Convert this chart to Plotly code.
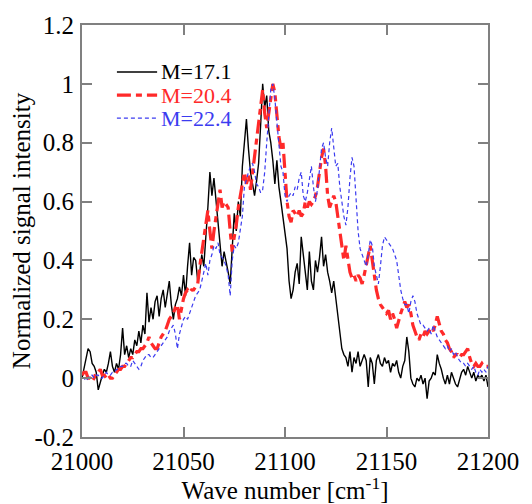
import plotly.graph_objects as go

wavenumber = list(range(21000, 21201))

m171 = [
    0.00, 0.03, 0.06, 0.10, 0.09, 0.05, 0.04, 0.02, -0.04, -0.01,
    0.01, 0.03, 0.02, 0.05, 0.09, 0.04, 0.02, 0.05, 0.03, 0.08,
    0.17, 0.08, 0.11, 0.07, 0.10, 0.08, 0.13, 0.11, 0.16, 0.12,
    0.18, 0.15, 0.29, 0.19, 0.24, 0.20, 0.26, 0.28, 0.21, 0.27,
    0.30, 0.24, 0.28, 0.33, 0.25, 0.20, 0.25, 0.27, 0.31, 0.28,
    0.35, 0.28, 0.38, 0.46, 0.35, 0.41, 0.40, 0.33, 0.36, 0.42,
    0.38, 0.47, 0.58, 0.70, 0.62, 0.68, 0.60, 0.52, 0.44, 0.38,
    0.43, 0.40, 0.36, 0.32, 0.45, 0.56, 0.50, 0.60, 0.55, 0.72,
    0.80, 0.88, 0.78, 0.70, 0.66, 0.62, 0.67, 0.73, 0.86, 1.00,
    0.92, 0.96, 0.84, 0.80, 0.74, 0.66, 0.74, 0.65, 0.60, 0.55,
    0.50, 0.44, 0.33, 0.27, 0.30, 0.36, 0.39, 0.32, 0.48, 0.42,
    0.35, 0.30, 0.43, 0.33, 0.30, 0.40, 0.36, 0.41, 0.48, 0.38,
    0.42, 0.36, 0.33, 0.29, 0.33, 0.27, 0.22, 0.15, 0.10, 0.08,
    0.07, 0.04, 0.09, 0.02, 0.07, 0.05, 0.09, 0.04, 0.06, 0.08,
    0.06, -0.03, 0.07, 0.05, -0.02, 0.06, 0.08, 0.05, 0.04, 0.07,
    0.05, 0.06, 0.02, 0.05, 0.04, 0.06, 0.02, 0.00, 0.04, 0.06,
    0.14, 0.09, 0.00, -0.02, -0.03, 0.00, -0.01, 0.01, -0.02, 0.00,
    -0.07, -0.01, 0.00, 0.02, 0.01, 0.08, 0.05, 0.03, 0.00, -0.02,
    0.01, -0.02, 0.02, 0.00, -0.02, -0.03, 0.00, 0.02, 0.03, 0.01,
    0.04, 0.02, 0.00, 0.02, -0.01, 0.01, 0.00, 0.01, -0.01, 0.01,
    -0.03,
]

m204 = [
    0.01, 0.02, 0.02, 0.00, 0.00, -0.01, 0.00, 0.02, 0.02, 0.03,
    0.01, 0.01, 0.00, 0.01, 0.00, 0.00, 0.01, 0.02, 0.03, 0.03,
    0.04, 0.04, 0.05, 0.06, 0.07, 0.07, 0.08, 0.09, 0.09, 0.10,
    0.10, 0.11, 0.12, 0.14, 0.12, 0.11, 0.10, 0.10, 0.12, 0.14,
    0.15, 0.16, 0.18, 0.20, 0.21, 0.22, 0.24, 0.25, 0.20, 0.24,
    0.27, 0.29, 0.30, 0.29, 0.30, 0.30, 0.31, 0.32, 0.38, 0.43,
    0.48, 0.52, 0.57, 0.50, 0.44, 0.50, 0.55, 0.60, 0.64, 0.58,
    0.60, 0.59, 0.58, 0.50, 0.43, 0.48, 0.52, 0.58, 0.62, 0.67,
    0.70, 0.66, 0.69, 0.64, 0.70, 0.76, 0.80, 0.88, 0.94, 0.98,
    0.90, 0.85, 0.90, 0.95, 1.00, 0.97, 0.90, 0.82, 0.78, 0.80,
    0.70, 0.60, 0.55, 0.53, 0.57, 0.56, 0.55, 0.57, 0.55, 0.56,
    0.60, 0.58, 0.60, 0.59, 0.60, 0.62, 0.65, 0.70, 0.75, 0.78,
    0.72, 0.62, 0.58, 0.60, 0.62, 0.60, 0.55, 0.50, 0.44, 0.40,
    0.45, 0.40, 0.36, 0.34, 0.35, 0.33, 0.35, 0.34, 0.32, 0.35,
    0.38, 0.42, 0.45, 0.40, 0.35, 0.30, 0.27, 0.25, 0.24, 0.23,
    0.22, 0.23, 0.20, 0.22, 0.20, 0.17, 0.20, 0.22, 0.24, 0.26,
    0.24, 0.25, 0.22, 0.18, 0.16, 0.14, 0.13, 0.15, 0.14, 0.16,
    0.15, 0.16, 0.17, 0.16, 0.18, 0.21, 0.18, 0.16, 0.15, 0.13,
    0.12, 0.10, 0.09, 0.07, 0.08, 0.08, 0.07, 0.08, 0.08, 0.09,
    0.10, 0.07, 0.05, 0.04, 0.05, 0.04, 0.04, 0.05, 0.04, 0.04,
    0.04,
]

m224 = [
    0.00, 0.00, -0.01, 0.00, 0.01, 0.01, 0.00, 0.01, 0.01, 0.00,
    0.00, 0.01, 0.02, 0.01, 0.01, 0.02, 0.02, 0.03, 0.03, 0.04,
    0.04, 0.05, 0.05, 0.04, 0.04, 0.06, 0.05, 0.04, 0.03, 0.04,
    0.06, 0.07, 0.08, 0.08, 0.07, 0.07, 0.08, 0.09, 0.10, 0.11,
    0.12, 0.13, 0.14, 0.16, 0.17, 0.18, 0.15, 0.10, 0.15, 0.18,
    0.20, 0.21, 0.20, 0.22, 0.24, 0.26, 0.28, 0.29, 0.30, 0.33,
    0.36, 0.39, 0.35, 0.40, 0.42, 0.45, 0.44, 0.46, 0.42, 0.41,
    0.40, 0.38, 0.35, 0.28, 0.40, 0.45, 0.44, 0.46, 0.50, 0.55,
    0.65, 0.68, 0.70, 0.72, 0.73, 0.70, 0.66, 0.65, 0.63, 0.64,
    0.70, 0.80, 0.90, 0.98, 1.00, 0.95, 0.87, 0.80, 0.72, 0.70,
    0.62, 0.60, 0.62, 0.63, 0.62, 0.65, 0.64, 0.68, 0.70, 0.62,
    0.60, 0.63, 0.67, 0.72, 0.65, 0.60, 0.64, 0.70, 0.78, 0.80,
    0.75, 0.72, 0.80, 0.85, 0.78, 0.72, 0.73, 0.65, 0.60, 0.55,
    0.52, 0.58, 0.68, 0.75, 0.72, 0.60, 0.50, 0.44, 0.42, 0.40,
    0.38, 0.42, 0.47, 0.45, 0.38, 0.35, 0.32, 0.38, 0.45, 0.48,
    0.47, 0.46, 0.45, 0.44, 0.42, 0.40, 0.35, 0.30, 0.27, 0.25,
    0.25, 0.22, 0.26, 0.28, 0.26, 0.22, 0.20, 0.18, 0.18, 0.17,
    0.16, 0.17, 0.15, 0.18, 0.16, 0.14, 0.13, 0.12, 0.11, 0.10,
    0.11, 0.09, 0.10, 0.08, 0.09, 0.07, 0.06, 0.05, 0.05, 0.04,
    0.05, 0.04, 0.03, 0.04, 0.02, 0.01, 0.03, 0.02, 0.03, 0.02,
    0.04,
]

series_names = ["M=17.1", "M=20.4", "M=22.4"]
x_ticks = [21000, 21050, 21100, 21150, 21200]
x_ticklabels = ["21000", "21050", "21100", "21150", "21200"]
y_ticks = [-0.2, 0, 0.2, 0.4, 0.6, 0.8, 1.0, 1.2]
y_ticklabels = ["-0.2", "0", "0.2", "0.4", "0.6", "0.8", "1", "1.2"]

FONT = "Liberation Serif"
BLACK = "#000000"
RED = "#ff2a2a"
BLUE = "#3c3cf0"

styles = [
    dict(color=BLACK, width=1.4, dash="solid"),
    dict(color=RED, width=3.2, dash="14px,5px,6px,5px"),
    dict(color=BLUE, width=1.2, dash="4px,3px"),
]

fig = go.Figure()
for name, ys, st in zip(series_names, [m171, m204, m224], styles):
    fig.add_trace(go.Scatter(x=wavenumber, y=ys, mode="lines", name=name,
                             line=st, showlegend=False))

# manual legend (paper coordinates)
legend_y = [0.886, 0.830, 0.774]
for name, st, ly in zip(series_names, styles, legend_y):
    fig.add_shape(type="line", xref="paper", yref="paper",
                  x0=0.086, x1=0.185, y0=ly, y1=ly, line=st)
    fig.add_annotation(xref="paper", yref="paper", x=0.190, y=ly,
                       text=name, showarrow=False, xanchor="left",
                       yanchor="middle",
                       font=dict(family=FONT, size=22, color=st["color"]))

axis_common = dict(
    showline=True, linecolor="#808080", linewidth=2, mirror="ticks",
    ticks="inside", ticklen=10, tickwidth=1.5, tickcolor="#808080",
    showgrid=False, zeroline=False, automargin=False,
    tickfont=dict(family=FONT, size=25, color="black"),
)

# the page body adds an 8px offset, so the figure is sized to fit after it
fig.update_layout(
    width=524, height=496,
    margin=dict(l=74, r=44, t=17, b=67),
    plot_bgcolor="white", paper_bgcolor="white",
    font=dict(family=FONT),
    xaxis=dict(range=[21000, 21200], tickvals=x_ticks, ticktext=x_ticklabels,
               title=dict(text="Wave number [cm<sup>-1</sup>]", standoff=1,
                          font=dict(family=FONT, size=25, color="black")),
               ticklabelstandoff=1,
               **axis_common),
    yaxis=dict(range=[-0.2, 1.2], tickvals=y_ticks, ticktext=y_ticklabels,
               title=dict(text="Normalized signal intensity", standoff=0,
                          font=dict(family=FONT, size=25, color="black")),
               ticklabelstandoff=1,
               **axis_common),
)

fig.write_html("out.html")
